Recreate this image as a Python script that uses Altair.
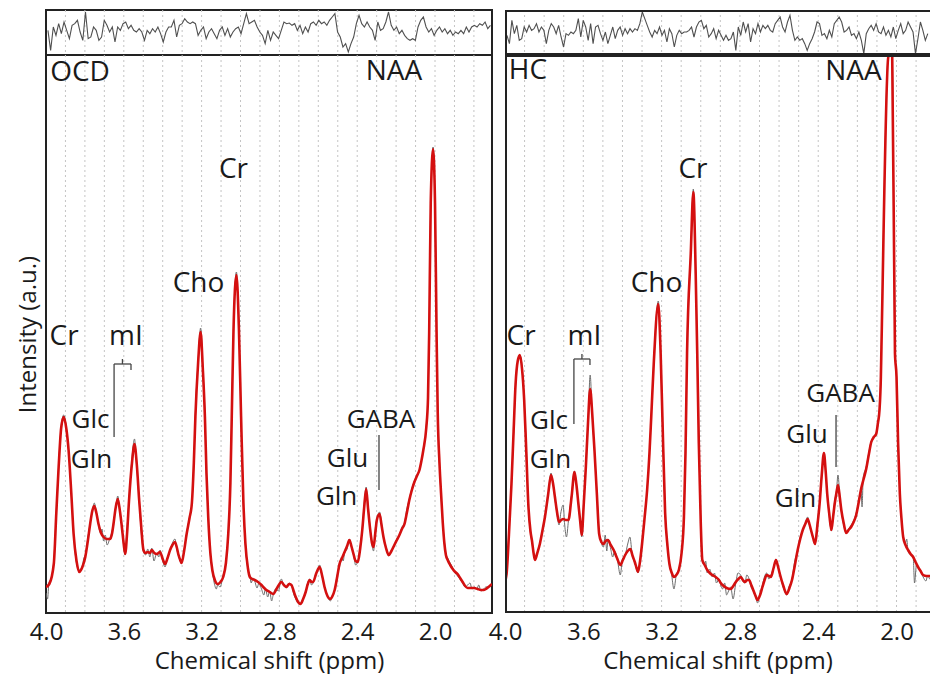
import altair as alt
import numpy as np
import pandas as pd

FONT = "Open Sans"
INK = "#1a1a1a"
FRAME = "#222222"
RED = "#d41010"
RAWC = "#6e6e6e"
GRIDC = "#c4c4c4"

# ---------------- data (ppm, intensity) ----------------
ocd_fit = [
    (4.000, 26), (3.983, 29), (3.960, 49), (3.947, 100), (3.935, 146), (3.922, 185), (3.909, 196),
    (3.896, 185), (3.884, 163), (3.870, 120), (3.858, 79), (3.843, 52), (3.829, 41), (3.813, 46),
    (3.798, 56), (3.785, 72), (3.773, 89), (3.762, 102), (3.752, 107), (3.741, 100), (3.730, 89),
    (3.717, 80), (3.704, 76), (3.687, 74), (3.670, 74), (3.660, 80), (3.653, 89), (3.642, 105),
    (3.631, 114), (3.620, 102), (3.610, 86), (3.601, 70), (3.593, 59), (3.583, 80), (3.573, 113),
    (3.558, 150), (3.545, 169), (3.533, 148), (3.521, 113), (3.510, 85), (3.499, 63), (3.488, 60),
    (3.477, 61), (3.466, 60), (3.456, 63), (3.443, 60), (3.431, 59), (3.422, 60), (3.414, 61),
    (3.400, 54), (3.388, 49), (3.375, 55), (3.362, 63), (3.350, 68), (3.337, 71), (3.328, 66),
    (3.320, 59), (3.310, 53), (3.303, 50), (3.290, 62), (3.277, 79), (3.262, 95), (3.250, 110),
    (3.240, 150), (3.232, 196), (3.218, 250), (3.205, 281), (3.194, 245), (3.183, 196), (3.175, 140),
    (3.166, 96), (3.155, 60), (3.145, 43), (3.130, 32), (3.118, 29), (3.103, 31), (3.089, 36),
    (3.075, 50), (3.063, 79), (3.052, 130), (3.045, 196), (3.036, 283), (3.021, 338), (3.008, 283),
    (2.997, 196), (2.985, 110), (2.975, 70), (2.962, 45), (2.952, 36), (2.940, 34), (2.927, 33),
    (2.910, 31), (2.892, 28), (2.878, 25), (2.867, 23), (2.850, 21), (2.832, 19), (2.812, 25),
    (2.790, 31), (2.777, 28), (2.764, 26), (2.750, 29), (2.738, 28), (2.727, 22), (2.716, 16),
    (2.704, 11), (2.692, 9), (2.678, 14), (2.665, 21), (2.654, 29), (2.644, 33), (2.635, 31),
    (2.627, 31), (2.610, 40), (2.593, 46), (2.580, 37), (2.568, 26), (2.553, 17), (2.538, 14),
    (2.527, 17), (2.516, 23), (2.503, 36), (2.491, 49), (2.478, 55), (2.465, 61), (2.452, 67),
    (2.440, 73), (2.430, 67), (2.419, 59), (2.408, 52), (2.397, 51), (2.385, 64), (2.374, 83),
    (2.364, 106), (2.354, 124), (2.344, 104), (2.333, 83), (2.324, 70), (2.316, 66), (2.307, 80),
    (2.299, 93), (2.285, 99), (2.275, 88), (2.265, 76), (2.252, 65), (2.238, 58), (2.224, 62),
    (2.209, 68), (2.196, 73), (2.183, 78), (2.170, 84), (2.157, 89), (2.145, 100), (2.132, 113),
    (2.119, 123), (2.106, 131), (2.093, 137), (2.080, 143), (2.070, 152), (2.060, 163), (2.045, 185),
    (2.036, 215), (2.030, 280), (2.022, 410), (2.010, 464), (2.000, 410), (1.992, 280), (1.986, 200),
    (1.977, 150), (1.969, 120), (1.960, 90), (1.952, 70), (1.944, 58), (1.935, 53), (1.922, 48),
    (1.909, 44), (1.896, 41), (1.884, 39), (1.871, 35), (1.858, 31), (1.845, 27), (1.832, 25),
    (1.815, 25), (1.798, 25), (1.781, 24), (1.764, 23), (1.751, 23), (1.738, 24), (1.725, 26),
    (1.713, 28), (1.707, 29),
]

ocd_raw = [
    (4.000, 20), (3.992, 14), (3.985, 30), (3.970, 36), (3.960, 52), (3.945, 110), (3.935, 148),
    (3.920, 190), (3.909, 198), (3.895, 185), (3.884, 163), (3.870, 120), (3.858, 79), (3.845, 52),
    (3.829, 43), (3.815, 46), (3.805, 55), (3.798, 58), (3.785, 75), (3.773, 90), (3.760, 104),
    (3.752, 110), (3.740, 100), (3.730, 88), (3.720, 80), (3.712, 84), (3.704, 72), (3.695, 78),
    (3.686, 68), (3.670, 76), (3.660, 82), (3.653, 90), (3.640, 108), (3.631, 117), (3.620, 100),
    (3.610, 86), (3.600, 66), (3.593, 58), (3.585, 80), (3.573, 114), (3.560, 150), (3.545, 174),
    (3.535, 150), (3.521, 112), (3.510, 80), (3.499, 62), (3.488, 58), (3.477, 64), (3.466, 56),
    (3.456, 65), (3.445, 52), (3.431, 60), (3.420, 56), (3.414, 63), (3.400, 52), (3.388, 46),
    (3.375, 56), (3.362, 62), (3.350, 70), (3.337, 74), (3.328, 64), (3.320, 58), (3.310, 52),
    (3.303, 50), (3.290, 63), (3.277, 80), (3.262, 96), (3.250, 110), (3.240, 150), (3.232, 200),
    (3.218, 252), (3.205, 285), (3.194, 246), (3.183, 196), (3.175, 138), (3.166, 96), (3.155, 58),
    (3.145, 42), (3.135, 30), (3.124, 24), (3.118, 28), (3.105, 26), (3.089, 38), (3.075, 51),
    (3.063, 80), (3.052, 131), (3.045, 197), (3.036, 285), (3.021, 341), (3.008, 283), (2.997, 196),
    (2.985, 108), (2.975, 68), (2.962, 44), (2.952, 38), (2.945, 30), (2.935, 35), (2.927, 32),
    (2.915, 25), (2.905, 30), (2.892, 24), (2.880, 18), (2.872, 24), (2.860, 16), (2.850, 22),
    (2.840, 12), (2.832, 18), (2.820, 24), (2.805, 22), (2.790, 34), (2.778, 28), (2.764, 25),
    (2.750, 30), (2.738, 28), (2.725, 18), (2.716, 14), (2.705, 10), (2.692, 9), (2.680, 14),
    (2.665, 20), (2.655, 30), (2.644, 34), (2.635, 28), (2.627, 30), (2.615, 38), (2.605, 42),
    (2.593, 48), (2.580, 36), (2.568, 26), (2.555, 18), (2.538, 12), (2.527, 18), (2.516, 22),
    (2.505, 36), (2.491, 46), (2.480, 56), (2.472, 52), (2.465, 60), (2.452, 64), (2.440, 74),
    (2.430, 66), (2.419, 58), (2.408, 48), (2.397, 52), (2.385, 66), (2.374, 84), (2.364, 110),
    (2.354, 126), (2.344, 106), (2.333, 84), (2.324, 68), (2.316, 62), (2.306, 86), (2.299, 94),
    (2.285, 101), (2.275, 90), (2.265, 76), (2.252, 66), (2.238, 57), (2.225, 62), (2.209, 67),
    (2.196, 74), (2.183, 78), (2.170, 86), (2.157, 90), (2.145, 104), (2.132, 114), (2.120, 124),
    (2.106, 132), (2.093, 138), (2.080, 143), (2.070, 152), (2.060, 164), (2.045, 186), (2.036, 216),
    (2.030, 282), (2.022, 412), (2.010, 466), (2.000, 408), (1.992, 280), (1.986, 200), (1.977, 148),
    (1.969, 118), (1.960, 90), (1.952, 72), (1.945, 60), (1.935, 55), (1.922, 50), (1.909, 45),
    (1.896, 40), (1.884, 37), (1.872, 34), (1.858, 30), (1.845, 26), (1.832, 28), (1.820, 30),
    (1.810, 24), (1.798, 26), (1.785, 24), (1.775, 28), (1.764, 22), (1.750, 24), (1.738, 26),
    (1.725, 26), (1.713, 29),
]

hc_fit = [
    (4.000, 32), (3.992, 39), (3.980, 78), (3.967, 129), (3.956, 182), (3.946, 229), (3.935, 252),
    (3.924, 258), (3.913, 244), (3.902, 213), (3.891, 160), (3.881, 109), (3.870, 82), (3.862, 72),
    (3.854, 60), (3.847, 53), (3.835, 60), (3.822, 69), (3.809, 82), (3.796, 96), (3.780, 118),
    (3.765, 138), (3.755, 130), (3.745, 116), (3.735, 102), (3.724, 91), (3.713, 93), (3.702, 94),
    (3.689, 93), (3.676, 93), (3.660, 116), (3.645, 141), (3.635, 128), (3.625, 109), (3.616, 92),
    (3.608, 78), (3.598, 108), (3.587, 146), (3.576, 190), (3.565, 224), (3.554, 198), (3.543, 163),
    (3.531, 120), (3.519, 79), (3.508, 71), (3.497, 69), (3.486, 72), (3.474, 73), (3.460, 68),
    (3.445, 63), (3.428, 55), (3.411, 48), (3.398, 53), (3.386, 58), (3.373, 62), (3.360, 64),
    (3.348, 57), (3.337, 51), (3.328, 45), (3.321, 41), (3.310, 52), (3.300, 69), (3.287, 95),
    (3.274, 123), (3.262, 160), (3.253, 196), (3.240, 250), (3.217, 309), (3.205, 260), (3.196, 196),
    (3.182, 100), (3.170, 67), (3.160, 49), (3.148, 40), (3.137, 36), (3.125, 38), (3.112, 43),
    (3.098, 60), (3.086, 96), (3.078, 160), (3.070, 260), (3.051, 360), (3.038, 421), (3.026, 340),
    (3.018, 260), (3.010, 170), (3.000, 90), (2.992, 53), (2.980, 48), (2.967, 43), (2.954, 40),
    (2.941, 38), (2.924, 36), (2.907, 33), (2.898, 30), (2.889, 28), (2.868, 25), (2.847, 24),
    (2.834, 27), (2.821, 31), (2.808, 34), (2.796, 36), (2.785, 33), (2.774, 31), (2.763, 33),
    (2.753, 33), (2.742, 28), (2.732, 23), (2.720, 17), (2.710, 13), (2.697, 18), (2.685, 26),
    (2.674, 33), (2.663, 38), (2.652, 37), (2.642, 36), (2.628, 45), (2.616, 53), (2.606, 47),
    (2.596, 39), (2.578, 27), (2.561, 19), (2.547, 25), (2.534, 33), (2.520, 47), (2.505, 63),
    (2.492, 74), (2.479, 83), (2.466, 89), (2.454, 94), (2.445, 89), (2.437, 83), (2.426, 75),
    (2.416, 69), (2.404, 88), (2.393, 109), (2.382, 138), (2.371, 160), (2.362, 142), (2.354, 119),
    (2.343, 98), (2.333, 83), (2.324, 96), (2.316, 109), (2.307, 120), (2.299, 128), (2.290, 116),
    (2.282, 103), (2.270, 90), (2.257, 80), (2.245, 83), (2.232, 86), (2.219, 91), (2.206, 98),
    (2.194, 110), (2.181, 124), (2.168, 134), (2.155, 144), (2.142, 158), (2.129, 171), (2.116, 176),
    (2.104, 179), (2.095, 190), (2.087, 203), (2.080, 236), (2.077, 266), (2.042, 556), (2.036, 558),
    (2.022, 556), (2.008, 260), (2.000, 236), (1.992, 170), (1.983, 119), (1.975, 95), (1.966, 76),
    (1.954, 68), (1.941, 63), (1.928, 59), (1.915, 56), (1.903, 51), (1.890, 46), (1.877, 42),
    (1.864, 38), (1.847, 37), (1.830, 37), (1.821, 37),
]

hc_raw = [
    (4.000, 26), (3.995, 30), (3.992, 40), (3.980, 80), (3.967, 128), (3.956, 180), (3.946, 228),
    (3.935, 252), (3.924, 258), (3.912, 245), (3.902, 212), (3.890, 160), (3.881, 108), (3.870, 80),
    (3.862, 70), (3.847, 54), (3.835, 60), (3.822, 70), (3.810, 82), (3.796, 96), (3.780, 118),
    (3.765, 140), (3.755, 130), (3.745, 114), (3.735, 100), (3.724, 88), (3.715, 100), (3.703, 108),
    (3.695, 88), (3.686, 76), (3.676, 92), (3.660, 118), (3.645, 142), (3.635, 128), (3.625, 108),
    (3.615, 90), (3.608, 76), (3.598, 110), (3.587, 148), (3.575, 195), (3.565, 238), (3.555, 200),
    (3.543, 162), (3.530, 118), (3.519, 80), (3.508, 70), (3.497, 66), (3.488, 78), (3.480, 62),
    (3.474, 74), (3.460, 64), (3.450, 56), (3.440, 62), (3.425, 52), (3.411, 38), (3.400, 54),
    (3.386, 58), (3.372, 70), (3.362, 76), (3.350, 58), (3.337, 50), (3.328, 44), (3.321, 40),
    (3.310, 52), (3.300, 70), (3.287, 96), (3.274, 124), (3.262, 160), (3.253, 196), (3.240, 252),
    (3.217, 312), (3.205, 262), (3.196, 196), (3.182, 100), (3.170, 66), (3.160, 50), (3.150, 40),
    (3.137, 24), (3.125, 38), (3.112, 44), (3.098, 60), (3.086, 98), (3.078, 162), (3.070, 262),
    (3.051, 362), (3.038, 424), (3.026, 342), (3.018, 262), (3.010, 172), (3.000, 92), (2.992, 54),
    (2.982, 48), (2.975, 52), (2.967, 40), (2.955, 44), (2.941, 36), (2.930, 40), (2.920, 30),
    (2.907, 34), (2.898, 28), (2.889, 24), (2.878, 30), (2.868, 18), (2.858, 22), (2.847, 26),
    (2.835, 14), (2.821, 30), (2.810, 40), (2.796, 38), (2.785, 32), (2.774, 30), (2.765, 38),
    (2.753, 34), (2.743, 26), (2.732, 22), (2.720, 16), (2.710, 10), (2.700, 18), (2.685, 28),
    (2.675, 36), (2.663, 40), (2.652, 34), (2.642, 38), (2.630, 44), (2.622, 50), (2.616, 54),
    (2.606, 46), (2.596, 40), (2.585, 30), (2.572, 22), (2.561, 18), (2.550, 26), (2.534, 34),
    (2.520, 52), (2.505, 62), (2.492, 76), (2.479, 82), (2.466, 90), (2.454, 96), (2.445, 88),
    (2.437, 82), (2.426, 76), (2.416, 70), (2.405, 90), (2.393, 110), (2.380, 140), (2.371, 160),
    (2.362, 140), (2.354, 118), (2.344, 98), (2.333, 82), (2.325, 95), (2.316, 112), (2.307, 122),
    (2.299, 138), (2.290, 118), (2.282, 102), (2.270, 88), (2.257, 80), (2.245, 84), (2.232, 88),
    (2.220, 92), (2.206, 100), (2.195, 110), (2.181, 122), (2.176, 106), (2.170, 136), (2.155, 146),
    (2.142, 160), (2.129, 172), (2.116, 176), (2.104, 180), (2.087, 204), (2.080, 236), (2.077, 268),
    (2.042, 556), (2.036, 558), (2.022, 556), (2.008, 262), (2.000, 236), (1.992, 170), (1.983, 120),
    (1.975, 96), (1.966, 78), (1.955, 70), (1.948, 74), (1.941, 62), (1.928, 58), (1.915, 56),
    (1.908, 30), (1.898, 48), (1.890, 46), (1.877, 42), (1.864, 36), (1.850, 32), (1.840, 38),
    (1.830, 34), (1.821, 38),
]

# residual traces (evenly spread along each panel, top strip)
ocd_resid = [
    -5, -65, 5, -20, 15, -15, 20, -5, -30, 10, 15, 25, -10, -35, 50, -30, -25, 5, -5, -35,
    -25, 25, 10, -10, 5, -40, 5, -5, 15, 20, 0, 10, -5, -10, 0, -10, -35, -5, -15, 0,
    -10, 5, -15, -40, -10, 5, 5, 25, -25, 10, 15, 30, 20, 15, 20, 15, -20, -5, 5, -30,
    -10, 0, -15, -30, -5, 5, -20, 0, -25, -10, 0, 5, -15, 15, 45, 15, 20, 25, 5, -10,
    -20, -45, -5, -35, -10,
    -20, -30, -5, 20, 15, 17, 10, 15, -5, 10, -15, 5, -10, 15, 20, 10, 25, 15, 20, 10,
    25, 35, 45, -10, -25, -55, -45, -70, -45, -25, 15, 40, 15, 5, 20, 5, -5, -35, 20, -5,
    0, 20, 50, 10, -5, 5, -15, -5, -20, -30, -35, -30, -35, 5, 25, 35, 5, -10, 0, -20,
    -5, 5, -10, 0, -15, -5, -20, -10, -15, -5, -15, 5, -10, 5, 10, 5, 15, 10, 20, 0, 10,
]
hc_resid = [
    -20, -45, 25, -15, 10, -35, -30, 5, -10, 10, -5, 0, 15, -10, 5, -5, -45, -5, 15, 5,
    -15, 10, -25, -55, -15, -20, -10, -15, -5, 30, -25, 25, 5, -35, 15, -45, 5, 10, -15, -35,
    -10, -45, -20, 5, -30, -5, 5, -20, 0, -15, 0, -10, 0, -5, 15, 50, 30, 10, -10, -25,
    -5, -15, 5, -20, -5, -40, 0, -15, -55, -20, -5, -15, -10, -10, -5, 5, -25, 5, 20, 25,
    0, 10, -25, -15, 0, -30, -5, -20,
    -35, -20, -35, -30, -10, -65, 5, -20, 20, -10, 15, -40, 0, -15, 15, -10, 10, 0, 10, -5,
    -10, 15, 25, 35, 5, -10, 20, 40, -5, -35, -25, -35, -30, -45, -65, -45, -30, -10, 20, 15,
    -20, -15, -30, -5, -25, 15, 25, 35, 20, -10, -5, 5, -20, -15, -30, -10, -35, -75, -15, 0,
    10, -5, 15, -10, -15, 5, -20, -5, -25, 5, -30, -5, 15, -15, -5, 20, 5, -10, -75, -30,
    20, -5, -35, -15, -30, -10, -5, 5,
]

# annotation labels: (text, ppm, intensity, font size)
ocd_labels = [
    ("OCD", 3.825, 540, 28), ("NAA", 2.211, 541, 28), ("Cr", 3.036, 443, 28),
    ("Cho", 3.216, 329, 28), ("Cr", 3.907, 276, 28), ("mI", 3.589, 276, 28),
    ("Glc", 3.771, 193, 26), ("Gln", 3.766, 153, 26), ("GABA", 2.278, 193, 26),
    ("Glu", 2.450, 154, 26), ("Gln", 2.506, 116, 26),
]
hc_labels = [
    ("HC", 3.883, 542, 28), ("NAA", 2.220, 541, 28), ("Cr", 3.040, 443, 28),
    ("Cho", 3.226, 329, 28), ("Cr", 3.918, 276, 28), ("mI", 3.594, 276, 28),
    ("Glc", 3.775, 192, 26), ("Gln", 3.768, 153, 26), ("GABA", 2.286, 219, 26),
    ("Glu", 2.457, 178, 26), ("Gln", 2.516, 114, 26),
]
# bracket / pointer segments: (ppm1, v1, ppm2, v2)
ocd_segs = [
    (3.650, 249, 3.650, 176), (3.650, 249, 3.563, 249), (3.563, 249, 3.563, 243),
    (3.607, 249, 3.607, 254), (2.288, 178, 2.288, 123),
]
hc_segs = [
    (3.648, 254, 3.648, 189), (3.648, 254, 3.566, 254), (3.566, 254, 3.566, 248),
    (3.607, 254, 3.607, 259), (2.309, 198, 2.309, 146),
]

GRID_PPM = [3.9, 3.8, 3.7, 3.6, 3.5, 3.4, 3.3, 3.2, 3.1, 3.0, 2.9, 2.8, 2.7, 2.6, 2.5,
            2.4, 2.3, 2.2, 2.1, 2.0, 1.9, 1.8]
TICKS = [4.0, 3.6, 3.2, 2.8, 2.4, 2.0]

RESID_H = 45
MAIN_H = 558
LEFT_W = 446
RIGHT_W = 425
LEFT_XMIN = 1.707
RIGHT_XMIN = 1.829


def frame_layers(width, height):
    d = alt.Data(values=[{"k": 0}])
    left = alt.Chart(d).mark_rule(color=FRAME, strokeWidth=2).encode(
        x=alt.value(1), y=alt.value(1), y2=alt.value(height - 1))
    top = alt.Chart(d).mark_rule(color=FRAME, strokeWidth=2).encode(
        x=alt.value(0), x2=alt.value(width), y=alt.value(1))
    bottom = alt.Chart(d).mark_rule(color=FRAME, strokeWidth=2).encode(
        x=alt.value(0), x2=alt.value(width), y=alt.value(height - 1))
    return [left, top, bottom]


def panel(fit, raw, resid, resid_end, labels, segs, xmin, width, ytitle, open_right):
    xs = alt.Scale(domain=[xmin, 4.0], reverse=True, nice=False, zero=False)
    ys = alt.Scale(domain=[0, MAIN_H], nice=False, zero=False)
    grid_df = pd.DataFrame({"ppm": [g for g in GRID_PPM if g > xmin]})

    xaxis = alt.Axis(values=TICKS, format=".1f", title="Chemical shift (ppm)",
                     labelFontSize=24, titleFontSize=24, labelFlush=False, ticks=False,
                     domain=False, grid=False, labelPadding=7, titlePadding=5,
                     labelColor=INK, titleColor=INK, titleFontWeight="normal",
                     labelFont=FONT, titleFont=FONT, labelOverlap=False)
    if ytitle:
        yaxis = alt.Axis(title=ytitle, labels=False, ticks=False, domain=False, grid=False,
                         titleFontSize=24, titlePadding=6, titleFontWeight="normal",
                         titleColor=INK, titleFont=FONT)
    else:
        yaxis = None

    # ---- residual strip ----
    res_df = pd.DataFrame({"ppm": np.linspace(3.99, resid_end, len(resid)), "r": resid})
    res_df = res_df[res_df["ppm"] >= xmin]
    res_grid = alt.Chart(grid_df).mark_rule(color=GRIDC, strokeDash=[2, 3], strokeWidth=1).encode(
        x=alt.X("ppm:Q", scale=xs, axis=None))
    res_line = alt.Chart(res_df).mark_line(color="#505050", strokeWidth=1.1, clip=True).encode(
        x=alt.X("ppm:Q", scale=xs, axis=None),
        y=alt.Y("r:Q", scale=alt.Scale(domain=[-79, 56], nice=False, zero=False), axis=None),
        order=alt.Order("ppm:Q", sort="descending"),
    )
    top_layers = [res_grid, res_line]
    if open_right:
        top_layers += frame_layers(width, RESID_H)
    top = alt.layer(*top_layers).properties(width=width, height=RESID_H)
    if open_right:
        top = top.properties(view=alt.ViewBackground(stroke=None))

    # ---- main spectrum ----
    fit_df = pd.DataFrame(fit, columns=["ppm", "val"])
    raw_df = pd.DataFrame(raw, columns=["ppm", "val"])
    lab_df = pd.DataFrame(labels, columns=["label", "ppm", "val", "fs"])
    seg_df = pd.DataFrame(segs, columns=["ppm", "val", "p2", "v2"])

    X = alt.X("ppm:Q", scale=xs, axis=xaxis)
    Y = alt.Y("val:Q", scale=ys, axis=yaxis)

    grid = alt.Chart(grid_df).mark_rule(color=GRIDC, strokeDash=[2, 3], strokeWidth=1).encode(x=X)
    raw_line = alt.Chart(raw_df).mark_line(color=RAWC, strokeWidth=1, clip=True,
                                           interpolate="monotone").encode(
        x=X, y=Y, order=alt.Order("ppm:Q", sort="descending"))
    fit_line = alt.Chart(fit_df).mark_line(color=RED, strokeWidth=2.6, clip=True,
                                           interpolate="monotone").encode(
        x=X, y=Y, order=alt.Order("ppm:Q", sort="descending"))
    seg_rules = alt.Chart(seg_df).mark_rule(color="#444444", strokeWidth=1.3).encode(
        x=X, x2="p2:Q", y=Y, y2="v2:Q")
    texts = alt.Chart(lab_df).mark_text(font=FONT, color=INK, align="center",
                                        baseline="middle").encode(
        x=X, y=Y, text="label:N", size=alt.Size("fs:Q", scale=None))
    main_layers = [grid, raw_line, fit_line, seg_rules, texts]
    if open_right:
        main_layers += frame_layers(width, MAIN_H)
    main = alt.layer(*main_layers).properties(width=width, height=MAIN_H)
    if open_right:
        main = main.properties(view=alt.ViewBackground(stroke=None))

    return alt.vconcat(top, main, spacing=0, bounds="flush")


left = panel(ocd_fit, ocd_raw, ocd_resid, 1.715, ocd_labels, ocd_segs,
             LEFT_XMIN, LEFT_W, "Intensity (a.u.)", False)
right = panel(hc_fit, hc_raw, hc_resid, 1.790, hc_labels, hc_segs,
              RIGHT_XMIN, RIGHT_W, None, True)

chart = alt.hconcat(left, right, spacing=-5).properties(
    padding={"left": 7, "top": 0, "right": 0, "bottom": 0},
    background="white",
).configure_view(stroke=FRAME, strokeWidth=2)

chart.save("out.html", embed_options={"renderer": "svg", "actions": False})
